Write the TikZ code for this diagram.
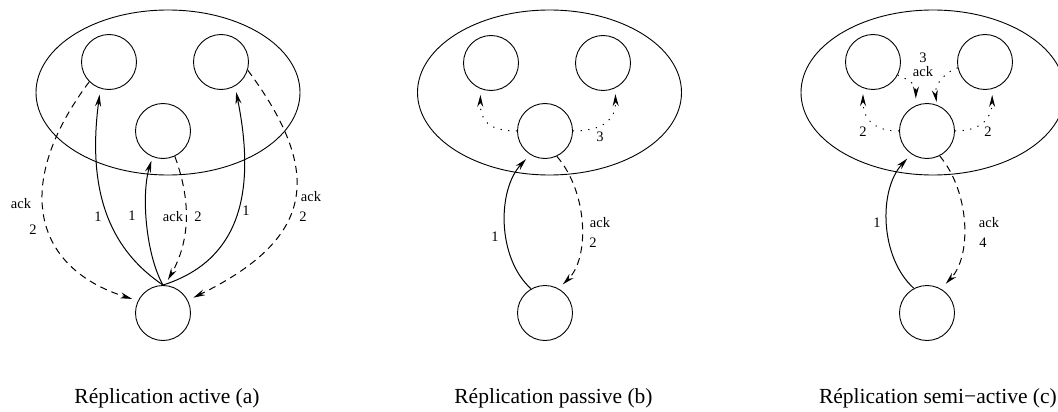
\documentclass[tikz,border=0pt]{standalone}
\usepackage{fontspec}
\setmainfont{Liberation Serif}
\usetikzlibrary{arrows.meta,shapes.geometric}
\begin{document}
\begin{tikzpicture}[x=1pt,y=-1pt,
  proc/.style={circle,draw,line width=0.9pt,minimum size=55pt,inner sep=0pt},
  grp/.style={ellipse,draw,line width=0.9pt,minimum width=264pt,minimum height=165pt,inner sep=0pt},
  conn/.style={line width=1pt,-{Stealth[length=12pt,width=6pt,inset=4pt]},shorten >=6pt},
  solidc/.style={conn},
  dashc/.style={conn,dash pattern=on 7pt off 5pt},
  dotc/.style={conn,dash pattern=on 1.2pt off 6.5pt},
  lbl/.style={font=\fontsize{14.5}{16}\selectfont,inner sep=0pt},
  captxt/.style={font=\fontsize{21.5}{26}\selectfont,inner sep=0pt}]
\clip (0,0) rectangle (1058,412);
% ---------- (a) active ----------
\node[grp] (gA) at (168,92.5) {};
\node[proc] (tlA) at (109,62) {};
\node[proc] (trA) at (221,62) {};
\node[proc] (mA) at (163,131) {};
\node[proc] (bA) at (163,313) {};
\draw[solidc] (bA.north) .. controls (114,252) and (86,198) .. (tlA.252);
\draw[solidc,shorten >=4pt] (bA.north) .. controls (146,255) and (141,195) .. (mA.248);
\draw[solidc] (bA.north) .. controls (235,262) and (258,200) .. (trA.300);
\draw[dashc] (tlA.225) .. controls (11.6,185.4) and (33.8,267.9) .. (bA.154);
\draw[dashc] (mA.295) .. controls (192,203) and (189.4,242) .. (bA.86);
\draw[dashc] (trA.343) .. controls (325,174) and (313.5,239) .. (bA.27);
\node[lbl] (la1) at (21,204) {ack};
\node[lbl] (la2) at (33,230) {2};
\node[lbl] (la3) at (98,217) {1};
\node[lbl] (la4) at (132,216) {1};
\node[lbl] (la5) at (173,217) {ack};
\node[lbl] (la6) at (198,217) {2};
\node[lbl] (la7) at (246,211) {1};
\node[lbl] (la8) at (311,197) {ack};
\node[lbl] (la9) at (303,217) {2};
\node[captxt,anchor=base] (capA) at (167,403) {Réplication active (a)};
% ---------- (b) passive ----------
\node[grp] (gB) at (549.5,92.5) {};
\node[proc] (tlB) at (491,63) {};
\node[proc] (trB) at (603,63) {};
\node[proc] (mB) at (545,131) {};
\node[proc] (bB) at (545,313) {};
\draw[dotc] (mB.west) .. controls (488,131) and (480,120) .. (tlB.248);
\draw[dotc] (mB.east) .. controls (602,131) and (616,120) .. (trB.296);
\draw[solidc] (bB.120) .. controls (497,258) and (497,190) .. (mB.238);
\draw[dashc] (mB.295) .. controls (588,192) and (590,258) .. (bB.61);
\node[lbl] (lb1) at (600,137) {3};
\node[lbl] (lb2) at (495,237) {1};
\node[lbl] (lb3) at (600,223) {ack};
\node[lbl] (lb4) at (593,243) {2};
\node[captxt,anchor=base] (capB) at (553.5,403) {Réplication passive (b)};
% ---------- (c) semi-active ----------
\node[grp] (gC) at (933,92.5) {};
\node[proc] (tlC) at (873,62) {};
\node[proc] (trC) at (985,62) {};
\node[proc] (mC) at (927,131) {};
\node[proc] (bC) at (927,313) {};
\draw[dotc] (mC.west) .. controls (875,131) and (863,120) .. (tlC.249);
\draw[dotc] (mC.east) .. controls (979,131) and (992,120) .. (trC.285);
\draw[dotc,shorten >=7pt] (tlC.332) .. controls (910,80) and (916,85) .. (mC.114);
\draw[dotc,shorten >=3pt] (trC.192) .. controls (945,72) and (934,85) .. (mC.69);
\draw[solidc] (bC.118) .. controls (880,258) and (878,190) .. (mC.236);
\draw[dashc,shorten >=7pt] (mC.297) .. controls (970,192) and (972,256) .. (bC.60);
\node[lbl] (lc1) at (863,132) {2};
\node[lbl] (lc2) at (988,132) {2};
\node[lbl] (lc3) at (923,58) {3};
\node[lbl] (lc4) at (923,72) {ack};
\node[lbl] (lc5) at (877,223) {1};
\node[lbl] (lc6) at (989,223) {ack};
\node[lbl] (lc7) at (983,243) {4};
\node[captxt,anchor=base east] (capC) at (1057,403) {Réplication semi−active (c)};
\end{tikzpicture}
\end{document}
